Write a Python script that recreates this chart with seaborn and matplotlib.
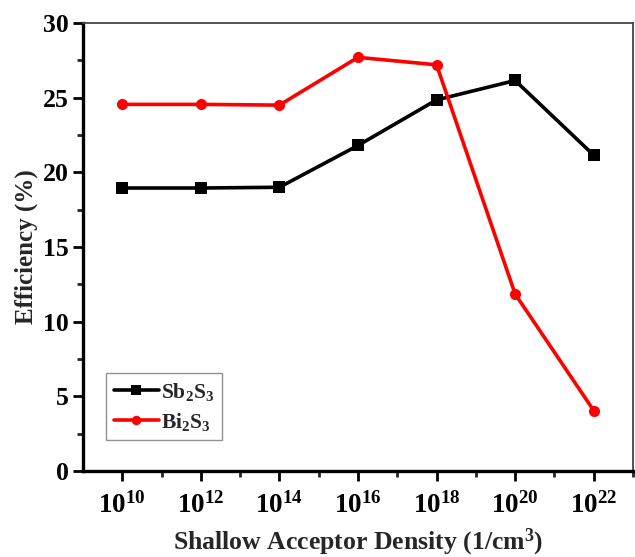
import matplotlib
matplotlib.use("Agg")
import matplotlib.pyplot as plt
from matplotlib.ticker import MultipleLocator, FixedLocator
import seaborn as sns
import pandas as pd

# Shallow acceptor density, given as powers of ten (1/cm^3)
density_exp = [10, 12, 14, 16, 18, 20, 22]
sb2s3_eff = [18.95, 18.95, 19.0, 21.8, 24.85, 26.15, 21.15]
bi2s3_eff = [24.55, 24.55, 24.5, 27.7, 27.2, 11.85, 4.05]
series_labels = [r"$\mathbf{Sb_2S_3}$", r"$\mathbf{Bi_2S_3}$"]
series_colors = ["black", "#ff0000"]
series_markers = ["s", "o"]

sns.set_theme(style="white")
plt.rcParams["font.family"] = ["Liberation Serif", "DejaVu Serif"]
plt.rcParams["font.weight"] = "bold"
plt.rcParams["mathtext.fontset"] = "custom"
plt.rcParams["mathtext.rm"] = "Liberation Serif:bold"
plt.rcParams["mathtext.bf"] = "Liberation Serif:bold"
plt.rcParams["mathtext.it"] = "Liberation Serif:bold"

df = pd.concat([
    pd.DataFrame({"exp": density_exp, "eff": sb2s3_eff, "material": series_labels[0]}),
    pd.DataFrame({"exp": density_exp, "eff": bi2s3_eff, "material": series_labels[1]}),
])

fig = plt.figure(figsize=(6.35, 5.57), dpi=100)
ax = fig.add_axes([83 / 635, 1 - 471 / 557, 550 / 635, 448 / 557])

sns.lineplot(data=df, x="exp", y="eff", hue="material", style="material",
             palette=dict(zip(series_labels, series_colors)),
             markers=dict(zip(series_labels, series_markers)),
             dashes=False, linewidth=2.6, markersize=8, markeredgewidth=0,
             ax=ax)

ax.set_xlim(9, 23)
ax.set_ylim(0, 30)
ax.xaxis.set_major_locator(FixedLocator(density_exp))
ax.xaxis.set_minor_locator(FixedLocator([11, 13, 15, 17, 19, 21, 23]))
ax.set_xticklabels([rf"$\mathbf{{10^{{{e}}}}}$" for e in density_exp])
ax.yaxis.set_major_locator(MultipleLocator(5))
ax.yaxis.set_minor_locator(MultipleLocator(2.5))

ax.tick_params(axis="both", which="major", direction="out", length=7, width=2,
               labelsize=18.5, colors="black", bottom=True, left=True)
ax.tick_params(axis="x", labelsize=19.5, pad=8)
ax.tick_params(axis="both", which="minor", direction="out", length=4, width=2,
               bottom=True, left=True)
ax.tick_params(axis="y", pad=3)
for lab in ax.get_yticklabels():
    lab.set_fontweight("bold")

for side in ["left", "bottom"]:
    ax.spines[side].set_linewidth(2.4)
    ax.spines[side].set_color("black")
for side in ["top", "right"]:
    ax.spines[side].set_linewidth(1.3)
    ax.spines[side].set_color("#444444")

ax.set_xlabel(r"Shallow Acceptor Density (1/cm$^\mathbf{3}$)", fontsize=18.5,
              fontweight="bold", labelpad=6)
ax.set_ylabel("Efficiency (%)", fontsize=18, fontweight="bold", labelpad=4)

leg = ax.legend(loc="lower left", bbox_to_anchor=(0.042, 0.069), fontsize=15.5,
                frameon=True, fancybox=False, edgecolor="#777777",
                handlelength=2.1, borderpad=0.35, labelspacing=0.35,
                handletextpad=0.1, borderaxespad=0, markerscale=0.85,
                title=None)
leg.get_frame().set_linewidth(1.0)

fig.savefig("out.png", dpi=100)
